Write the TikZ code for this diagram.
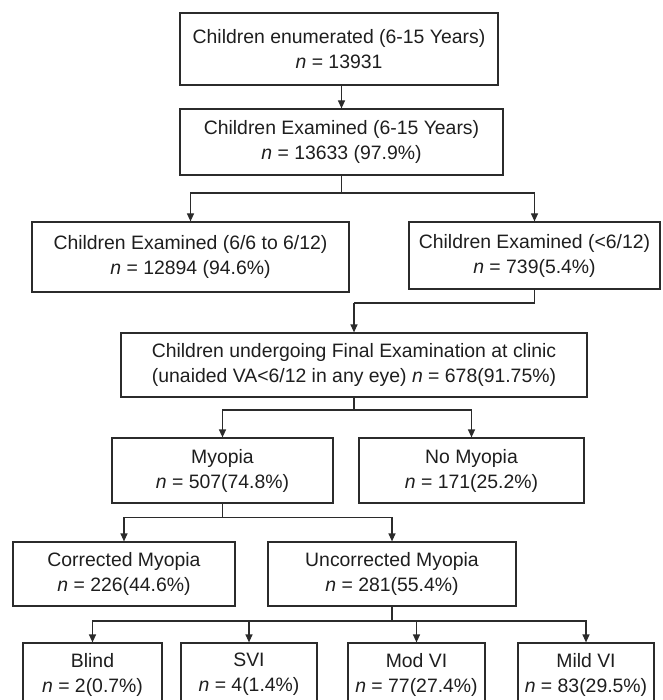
\documentclass[tikz,border=0pt]{standalone}
\usepackage{fontspec}
\setmainfont{Liberation Sans}
\usetikzlibrary{arrows.meta}
\definecolor{linecol}{HTML}{2B2B2B}
\definecolor{textcol}{HTML}{1E1E1E}
\begin{document}
\begin{tikzpicture}[x=1pt,y=-1pt,
  flowbox/.style={draw=linecol, line width=1.2pt, align=center, inner sep=0pt, text=textcol, font=\fontsize{19.4pt}{25pt}\selectfont},
  conn/.style={draw=linecol, line width=1.2pt},
  arr/.style={conn, -{Triangle[length=8pt,width=7pt]}}]
\useasboundingbox (0,0) rectangle (662,700);
% row 1-2
\node[flowbox, minimum width=318pt, minimum height=72pt] (enum) at (339,49) {Children enumerated (6-15 Years)\\\textit{n} = 13931};
\node[flowbox, minimum width=323pt, minimum height=66pt] (exam) at (341.5,142) {Children Examined (6-15 Years)\\\textit{n} = 13633 (97.9\%)};
% row 3
\node[flowbox, minimum width=317pt, minimum height=70pt] (exl) at (190.5,257) {Children Examined (6/6 to 6/12)\\\textit{n} = 12894 (94.6\%)};
\node[flowbox, minimum width=251pt, minimum height=67pt] (exr) at (534.5,255.5) {Children Examined (<6/12)\\\textit{n} = 739(5.4\%)};
% row 4
\node[flowbox, minimum width=466pt, minimum height=64pt] (clinic) at (354,365) {Children undergoing Final Examination at clinic\\(unaided VA<6/12 in any eye) \textit{n} = 678(91.75\%)};
% row 5
\node[flowbox, minimum width=221pt, minimum height=65pt] (myo) at (222.5,470.5) {Myopia\\\textit{n} = 507(74.8\%)};
\node[flowbox, minimum width=225pt, minimum height=65pt] (nomyo) at (471.5,470.5) {No Myopia\\\textit{n} = 171(25.2\%)};
% row 6
\node[flowbox, minimum width=222pt, minimum height=64pt] (corr) at (124,574) {Corrected Myopia\\\textit{n} = 226(44.6\%)};
\node[flowbox, minimum width=248pt, minimum height=64pt] (uncorr) at (392,574) {Uncorrected Myopia\\\textit{n} = 281(55.4\%)};
% row 7
\node[flowbox, minimum width=139pt, minimum height=63pt] (blind) at (92.5,674.5) {Blind\\\textit{n} = 2(0.7\%)};
\node[flowbox, minimum width=136pt, minimum height=63pt] (svi) at (249,674.5) {SVI\\\textit{n} = 4(1.4\%)};
\node[flowbox, minimum width=137pt, minimum height=63pt] (mod) at (416.5,674.5) {Mod VI\\\textit{n} = 77(27.4\%)};
\node[flowbox, minimum width=136pt, minimum height=63pt] (mild) at (586,674.5) {Mild VI\\\textit{n} = 83(29.5\%)};
% junction points
\coordinate (j1) at (341.5,193);
\coordinate (j2) at (534.5,303);
\coordinate (j2b) at (354,303);
\coordinate (j3) at (354,410);
\coordinate (j4) at (222.5,517.5);
\coordinate (j5) at (392,621);
% connectors
\draw[arr] (exam.north |- enum.south) -- (exam.north);
\draw[conn] (exam.south) -- (j1);
\draw[arr] (j1) -| (exl.north);
\draw[arr] (j1) -| (exr.north);
\draw[conn] (exr.south) -- (j2) -- (j2b);
\draw[arr] (j2b) -- (clinic.north);
\draw[conn] (clinic.south) -- (j3);
\draw[arr] (j3) -| (myo.north);
\draw[arr] (j3) -| (nomyo.north);
\draw[conn] (myo.south) -- (j4);
\draw[arr] (j4) -| (corr.north);
\draw[arr] (j4) -| (uncorr.north);
\draw[conn] (uncorr.south) -- (j5);
\draw[arr] (j5) -| (blind.north);
\draw[arr] (j5) -| (svi.north);
\draw[arr] (j5) -| (mod.north);
\draw[arr] (j5) -| (mild.north);
\end{tikzpicture}
\end{document}
